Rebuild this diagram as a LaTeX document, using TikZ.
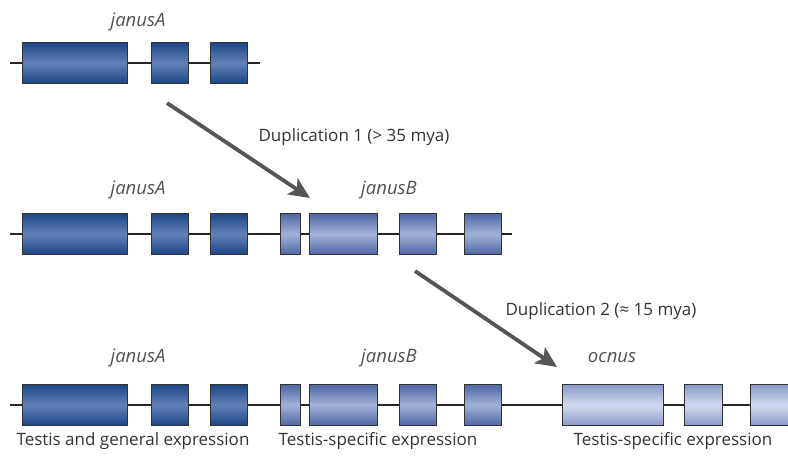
\documentclass[tikz,border=0pt]{standalone}
\usepackage{fontspec}
\setmainfont{Open Sans}
\usetikzlibrary{arrows.meta}
\definecolor{exAdark}{HTML}{1C4686}
\definecolor{exAlight}{HTML}{6480B8}
\definecolor{exBdark}{HTML}{4E68A4}
\definecolor{exBlight}{HTML}{A2B2D8}
\definecolor{exCdark}{HTML}{8A9ACA}
\definecolor{exClight}{HTML}{D2D9EE}
\definecolor{txt}{HTML}{333333}
\definecolor{arrowgray}{HTML}{555555}
\tikzset{
  x=1pt, y=-1pt,
  exon/.style={draw=black!80, line width=0.9pt, inner sep=0pt, anchor=west,
    minimum height=41pt, shading=axis, shading angle=0},
  exA/.style={exon, top color=exAdark, bottom color=exAdark, middle color=exAlight},
  exB/.style={exon, top color=exBdark, bottom color=exBdark, middle color=exBlight},
  exC/.style={exon, top color=exCdark, bottom color=exCdark, middle color=exClight},
  backbone/.style={draw=black!85, line width=1.8pt},
  genename/.style={font=\itshape\fontsize{18.5}{22}\selectfont, text=txt!85},
  caption/.style={font=\fontsize{17}{20}\selectfont, text=txt},
  duparrow/.style={draw=arrowgray, line width=3.8pt,
    -{Stealth[length=21pt, width=19pt, inset=5pt]}},
}
\begin{document}
\begin{tikzpicture}
\useasboundingbox (0,0) rectangle (788,458);

% ---- row 1: janusA only ----
\coordinate (r1s) at (10,63);
\coordinate (r1e) at (260,63);
\draw[backbone] (r1s) -- (r1e);
\node[exA, minimum width=105pt] (a1x1) at (22,63) {};
\node[exA, minimum width=37pt] (a1x2) at (151,63) {};
\node[exA, minimum width=37pt] (a1x3) at (210,63) {};
\node[genename] (a1lab) at (138,22) {janusA};

% ---- row 2: janusA + janusB ----
\coordinate (r2s) at (10,234);
\coordinate (r2e) at (512,234);
\draw[backbone] (r2s) -- (r2e);
\node[exA, minimum width=105pt] (a2x1) at (22,234) {};
\node[exA, minimum width=37pt] (a2x2) at (151,234) {};
\node[exA, minimum width=37pt] (a2x3) at (210,234) {};
\node[exB, minimum width=20pt] (b2x1) at (280,234) {};
\node[exB, minimum width=68pt] (b2x2) at (309,234) {};
\node[exB, minimum width=37pt] (b2x3) at (399,234) {};
\node[exB, minimum width=37pt] (b2x4) at (464,234) {};
\node[genename] (a2lab) at (138,190) {janusA};
\node[genename] (b2lab) at (389,190) {janusB};

% ---- row 3: janusA + janusB + ocnus ----
\coordinate (r3s) at (10,405);
\coordinate (r3e) at (788,405);
\draw[backbone] (r3s) -- (r3e);
\node[exA, minimum width=105pt] (a3x1) at (22,405) {};
\node[exA, minimum width=37pt] (a3x2) at (151,405) {};
\node[exA, minimum width=37pt] (a3x3) at (210,405) {};
\node[exB, minimum width=20pt] (b3x1) at (280,405) {};
\node[exB, minimum width=68pt] (b3x2) at (309,405) {};
\node[exB, minimum width=37pt] (b3x3) at (399,405) {};
\node[exB, minimum width=37pt] (b3x4) at (464,405) {};
\node[exC, minimum width=101pt] (c3x1) at (562,405) {};
\node[exC, minimum width=38pt] (c3x2) at (684,405) {};
\node[exC, minimum width=38pt] (c3x3) at (749.5,405) {};
\node[genename] (a3lab) at (138,358) {janusA};
\node[genename] (b3lab) at (389,358) {janusB};
\node[genename] (c3lab) at (612,358) {ocnus};

% ---- expression captions ----
\node[caption] (capA) at (133,441) {Testis and general expression};
\node[caption] (capB) at (378,441) {Testis-specific expression};
\node[caption] (capC) at (673,441) {Testis-specific expression};

% ---- duplication arrows ----
\coordinate (d1s) at (167,103);
\coordinate (d1e) at (310,198);
\coordinate (d2s) at (415,271);
\coordinate (d2e) at (557,367);
\draw[duparrow] (d1s) -- (d1e);
\draw[duparrow] (d2s) -- (d2e);
\node[caption, anchor=west] (dup1) at (255,137) {Duplication 1 (> 35 mya)};
\node[caption, anchor=west] (dup2) at (502,311) {Duplication 2 (≈ 15 mya)};
\end{tikzpicture}
\end{document}
